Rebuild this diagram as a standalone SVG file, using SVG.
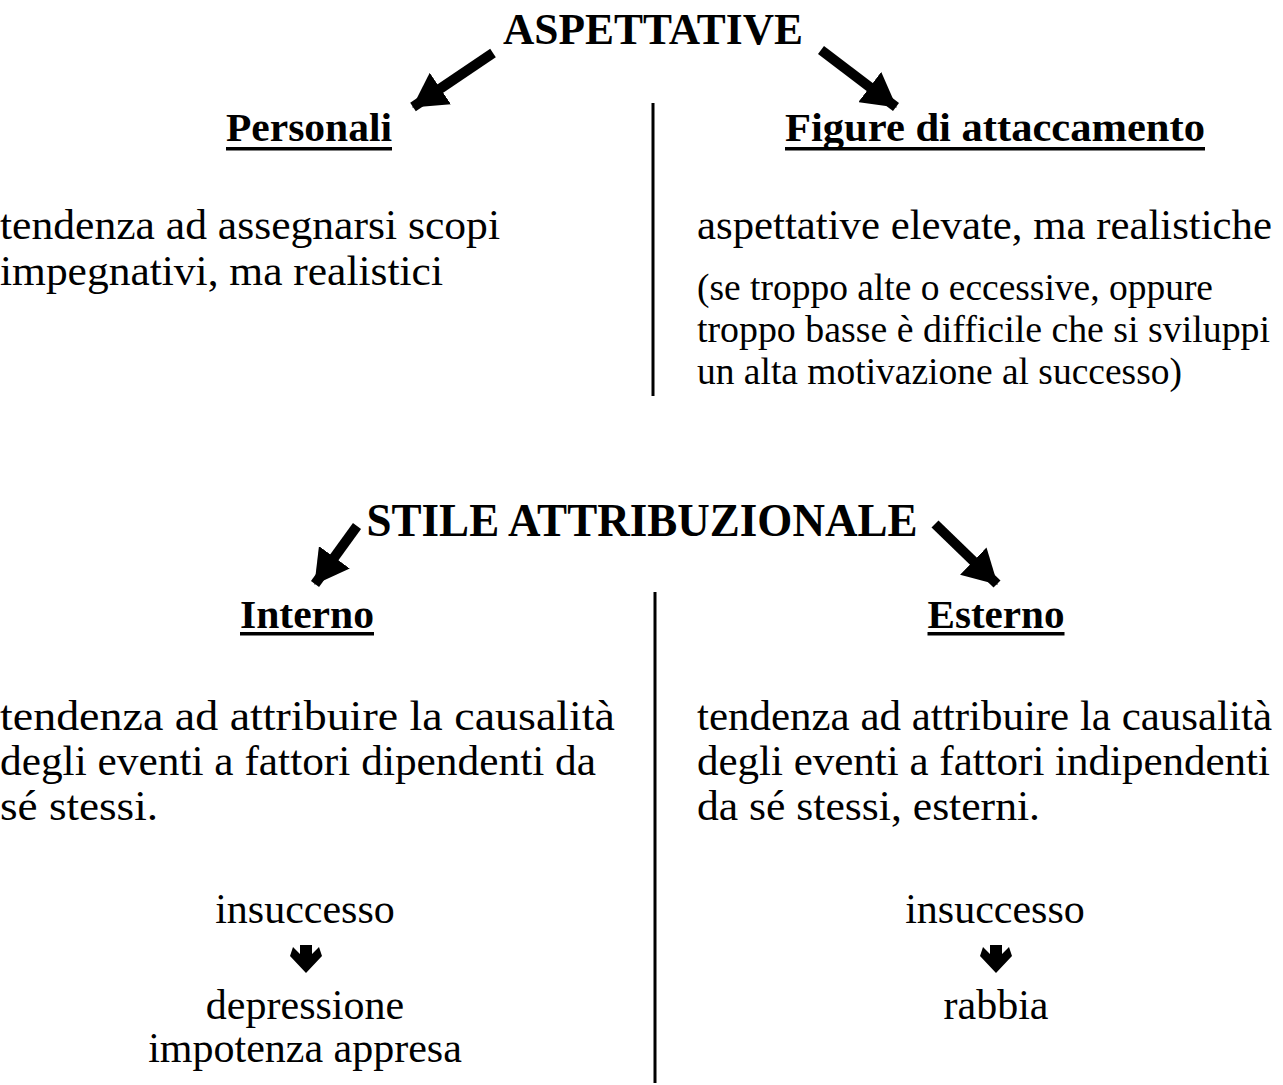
<svg xmlns="http://www.w3.org/2000/svg" width="1283" height="1085" viewBox="0 0 1283 1085">
<defs>
<style>
text{font-family:"Liberation Serif","Times New Roman",serif;fill:#000}
.title{font-size:44px;font-weight:bold}
.head{font-size:40px;font-weight:bold}
.body{font-size:42px}
.small{font-size:37px}
.mid{text-anchor:middle}
.conn{stroke:#000;stroke-width:10;fill:none}
.div{stroke:#000;stroke-width:3}
.ul{fill:#000}
</style>
<marker id="ah" viewBox="0 0 34 38" refX="33" refY="19" markerWidth="34" markerHeight="38" markerUnits="userSpaceOnUse" orient="auto">
<path d="M0,0 L34,19 L0,38 z" fill="#000"/>
</marker>
<path id="down" d="M-6,0 L6,0 L6,9 L13,2 L16,11 L0,28 L-16,11 L-13,2 L-6,9 z" fill="#000"/>
</defs>
<rect width="1283" height="1085" fill="#fff"/>

<g id="aspettative">
<text class="title mid" x="653" y="44" textLength="300" lengthAdjust="spacingAndGlyphs">ASPETTATIVE</text>
</g>
<g id="personali">
<text class="head mid" x="309" y="141" textLength="166" lengthAdjust="spacingAndGlyphs">Personali</text>
<rect class="ul" x="226" y="147" width="166" height="3.5"/>
<text class="body" x="0" y="239" textLength="500" lengthAdjust="spacingAndGlyphs">tendenza ad assegnarsi scopi</text>
<text class="body" x="0" y="285" textLength="443" lengthAdjust="spacingAndGlyphs">impegnativi, ma realistici</text>
</g>
<g id="figure">
<text class="head mid" x="995" y="141" textLength="420" lengthAdjust="spacingAndGlyphs">Figure di attaccamento</text>
<rect class="ul" x="785" y="147" width="420" height="3.5"/>
<text class="body" x="697" y="239" textLength="575" lengthAdjust="spacingAndGlyphs">aspettative elevate, ma realistiche</text>
<text class="small" x="697" y="300" textLength="516" lengthAdjust="spacingAndGlyphs">(se troppo alte o eccessive, oppure</text>
<text class="small" x="697" y="342" textLength="573" lengthAdjust="spacingAndGlyphs">troppo basse è difficile che si sviluppi</text>
<text class="small" x="697" y="384" textLength="485" lengthAdjust="spacingAndGlyphs">un alta motivazione al successo)</text>
</g>

<g id="stile">
<text class="title mid" x="642" y="536" style="font-size:46px" textLength="551" lengthAdjust="spacingAndGlyphs">STILE ATTRIBUZIONALE</text>
</g>
<g id="interno">
<text class="head mid" x="307" y="628" textLength="134" lengthAdjust="spacingAndGlyphs">Interno</text>
<rect class="ul" x="240" y="632" width="134" height="3.5"/>
<text class="body" x="0" y="730" textLength="615" lengthAdjust="spacingAndGlyphs">tendenza ad attribuire la causalità</text>
<text class="body" x="0" y="775" textLength="596" lengthAdjust="spacingAndGlyphs">degli eventi a fattori dipendenti da</text>
<text class="body" x="0" y="820" textLength="158" lengthAdjust="spacingAndGlyphs">sé stessi.</text>
<text class="body mid" x="305" y="923">insuccesso</text>
<use href="#down" x="306" y="945"/>
<text class="body mid" x="305" y="1019">depressione</text>
<text class="body mid" x="305" y="1062">impotenza appresa</text>
</g>
<g id="esterno">
<text class="head mid" x="996" y="628" textLength="137" lengthAdjust="spacingAndGlyphs">Esterno</text>
<rect class="ul" x="927.5" y="632" width="137" height="3.5"/>
<text class="body" x="697" y="730" textLength="575" lengthAdjust="spacingAndGlyphs">tendenza ad attribuire la causalità</text>
<text class="body" x="697" y="775" textLength="573" lengthAdjust="spacingAndGlyphs">degli eventi a fattori indipendenti</text>
<text class="body" x="697" y="820" textLength="343" lengthAdjust="spacingAndGlyphs">da sé stessi, esterni.</text>
<text class="body mid" x="995" y="923">insuccesso</text>
<use href="#down" x="996" y="945"/>
<text class="body mid" x="996" y="1019">rabbia</text>
</g>

<g id="connectors">
<line class="conn" x1="493" y1="53" x2="413" y2="107" marker-end="url(#ah)"/>
<line class="conn" x1="821" y1="50" x2="896" y2="107" marker-end="url(#ah)"/>
<line class="conn" x1="357" y1="526" x2="315" y2="584" marker-end="url(#ah)"/>
<line class="conn" x1="935" y1="524" x2="997" y2="584" marker-end="url(#ah)"/>
<line class="div" x1="653" y1="103" x2="653" y2="396"/>
<line class="div" x1="655" y1="592" x2="655" y2="1083"/>
</g>
</svg>
